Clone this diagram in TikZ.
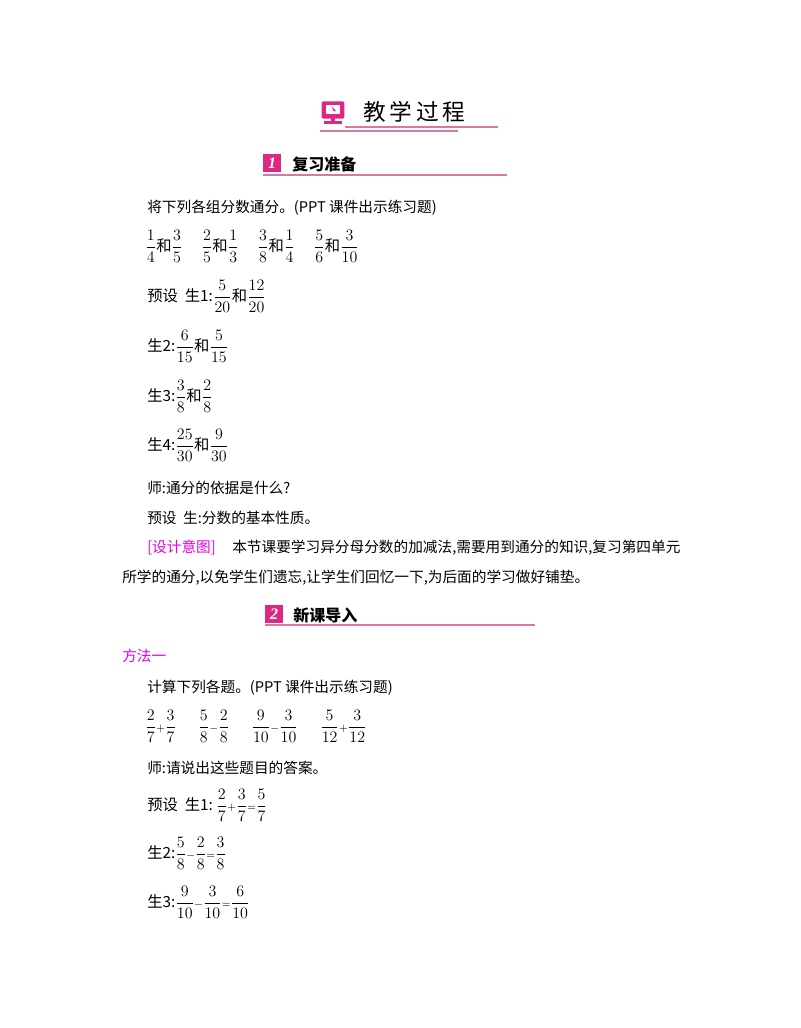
\documentclass[tikz,border=0pt]{standalone}
\usepackage{fontspec}
\setmainfont{Liberation Serif}
\newfontfamily\cjk{Noto Sans CJK SC}
\usepackage{amsmath}
\definecolor{pk}{RGB}{220,40,130}
\definecolor{pkl}{RGB}{215,120,165}
\definecolor{mag}{RGB}{230,0,230}
\begin{document}
\begin{tikzpicture}[x=0.75pt,y=-0.75pt,
  txt/.style={anchor=west,inner sep=0pt,font=\fontsize{11}{13}\selectfont\cjk},
  fr/.style={anchor=west,inner sep=0pt,font=\fontsize{11.5}{13}\selectfont\cjk},
  sec/.style={anchor=west,inner sep=0pt,font=\fontsize{12}{14}\selectfont\cjk\bfseries},
  badge/.style={fill=pk,text=white,font=\bfseries\itshape\fontsize{12}{12}\selectfont,minimum width=13pt,minimum height=13pt,inner sep=0pt}]
\useasboundingbox (0,0) rectangle (800,1028);
% header
\node[fill=pk,minimum width=17pt,minimum height=13pt,inner sep=0pt,rounded corners=1pt] (icon) at (333,110) {};
\fill[white] (326,105) rectangle (340,114);
\fill[pk] (332,107) -- (336,111) -- (333.5,111) -- cycle;
\fill[pk] (331,117) rectangle (335,121);
\fill[pk] (324,121) rectangle (342,123.5);
\node[anchor=west,inner sep=0pt,font=\fontsize{17}{19}\selectfont\cjk] (title) at (363,112) {教\,学\,过\,程};
\draw[pkl,line width=1.2pt] (345,127) -- (498,127);
\draw[pkl,line width=1.2pt] (320,131) -- (458,131);
% section 1
\node[badge] (b1) at (272,163) {1};
\node[sec] (s1) at (292,164) {复习准备};
\draw[pkl,line width=1pt] (263,175) -- (507,175);
\node[txt] (l1) at (147,208) {将下列各组分数通分。(PPT 课件出示练习题)};
\node[fr] (l2) at (145,246) {$\dfrac{1}{4}$和$\dfrac{3}{5}$\quad\ $\dfrac{2}{5}$和$\dfrac{1}{3}$\quad\ $\dfrac{3}{8}$和$\dfrac{1}{4}$\quad\ $\dfrac{5}{6}$和$\dfrac{3}{10}$};
\node[fr] (l3) at (147,296) {预设\ \ 生1:$\dfrac{5}{20}$和$\dfrac{12}{20}$};
\node[fr] (l4) at (147,346) {生2:$\dfrac{6}{15}$和$\dfrac{5}{15}$};
\node[fr] (l5) at (147,396) {生3:$\dfrac{3}{8}$和$\dfrac{2}{8}$};
\node[fr] (l6) at (147,445) {生4:$\dfrac{25}{30}$和$\dfrac{9}{30}$};
\node[txt] (l7) at (147,488) {师:通分的依据是什么?};
\node[txt] (l8) at (147,518) {预设\ \ 生:分数的基本性质。};
\node[txt,text=mag] (l9a) at (147,548) {[设计意图]};
\node[txt] (l9) at (232,548) {本节课要学习异分母分数的加减法,需要用到通分的知识,复习第四单元};
\node[txt] (l10) at (122,578) {所学的通分,以免学生们遗忘,让学生们回忆一下,为后面的学习做好铺垫。};
% section 2
\node[badge] (b2) at (274,614) {2};
\node[sec] (s2) at (293,615) {新课导入};
\draw[pkl,line width=1pt] (265,625) -- (535,625);
\node[txt,text=mag] (m1) at (122,656) {方法一};
\node[txt] (k1) at (147,688) {计算下列各题。(PPT 课件出示练习题)};
\node[fr] (k2) at (145,726) {$\dfrac{2}{7}{\scriptstyle+}\dfrac{3}{7}$\quad\ \ $\dfrac{5}{8}{\scriptstyle-}\dfrac{2}{8}$\quad\ \ $\dfrac{9}{10}{\scriptstyle-}\dfrac{3}{10}$\quad\ \ $\dfrac{5}{12}{\scriptstyle+}\dfrac{3}{12}$};
\node[txt] (k3) at (147,768) {师:请说出这些题目的答案。};
\node[fr] (k4) at (147,805) {预设\ \ 生1:\ $\dfrac{2}{7}{\scriptstyle+}\dfrac{3}{7}{\scriptstyle=}\dfrac{5}{7}$};
\node[fr] (k5) at (147,853) {生2:$\dfrac{5}{8}{\scriptstyle-}\dfrac{2}{8}{\scriptstyle=}\dfrac{3}{8}$};
\node[fr] (k6) at (147,902) {生3:$\dfrac{9}{10}{\scriptstyle-}\dfrac{3}{10}{\scriptstyle=}\dfrac{6}{10}$};
\end{tikzpicture}
\end{document}
